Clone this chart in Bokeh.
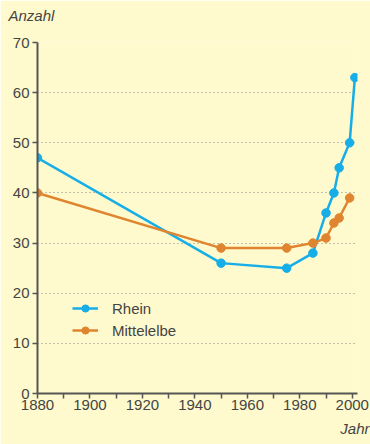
from bokeh.plotting import figure
from bokeh.models import FixedTicker, Legend, LegendItem, Range1d, Title
from bokeh.embed import file_html
from bokeh.resources import INLINE

rhein_years = [1880, 1950, 1975, 1985, 1990, 1993, 1995, 1999, 2001]
rhein_values = [47, 26, 25, 28, 36, 40, 45, 50, 63]
elbe_years = [1880, 1950, 1975, 1985, 1990, 1993, 1995, 1999]
elbe_values = [40, 29, 29, 30, 31, 34, 35, 39]
x_ticks = [1880, 1900, 1920, 1940, 1960, 1980, 2000]
x_minor = [1890, 1910, 1930, 1950, 1970, 1990]
y_ticks = [0, 10, 20, 30, 40, 50, 60, 70]

BG = "#FEFACD"
TXT = "#444444"
AX = "#555555"
BLUE = "#17AEE8"
ORANGE = "#E0852F"
FONT = "Liberation Sans"

p = figure(width=370, height=444, output_backend="svg", toolbar_location=None,
           x_range=Range1d(1880, 2002), y_range=Range1d(0, 70),
           min_border_left=37, min_border_right=13, min_border_top=42, min_border_bottom=51)
p.background_fill_color = BG
p.border_fill_color = BG
p.outline_line_color = None

p.xgrid.grid_line_color = None
p.ygrid.ticker = FixedTicker(ticks=y_ticks[1:])
p.ygrid.grid_line_color = "#888888"
p.ygrid.grid_line_dash = "1 3"
p.ygrid.grid_line_width = 1

for ax in (p.xaxis[0], p.yaxis[0]):
    ax.axis_line_color = AX
    ax.axis_line_width = 2
    ax.major_tick_line_color = AX
    ax.major_tick_line_width = 1.5
    ax.minor_tick_line_color = AX
    ax.minor_tick_line_width = 1.5
    ax.major_tick_in = 0
    ax.major_tick_out = 5
    ax.major_label_text_font = FONT
    ax.major_label_text_font_size = "15px"
    ax.major_label_text_color = TXT

p.xaxis.ticker = FixedTicker(ticks=x_ticks, minor_ticks=x_minor)
p.xaxis.minor_tick_in = 0
p.xaxis.minor_tick_out = 5
p.xaxis.major_label_standoff = 1
p.yaxis.ticker = FixedTicker(ticks=y_ticks)
p.yaxis.minor_tick_line_color = None
p.yaxis.major_label_standoff = 3

r1 = p.line(rhein_years, rhein_values, line_color=BLUE, line_width=2.5)
c1 = p.scatter(rhein_years, rhein_values, size=8.5, fill_color=BLUE, line_color=BLUE)
r2 = p.line(elbe_years, elbe_values, line_color=ORANGE, line_width=2.5)
c2 = p.scatter(elbe_years, elbe_values, size=8.5, fill_color=ORANGE, line_color=ORANGE)

legend = Legend(items=[LegendItem(label="Rhein", renderers=[r1, c1]),
                       LegendItem(label="Mittelelbe", renderers=[r2, c2])],
                location=(35, 54), background_fill_alpha=0, border_line_color=None,
                label_text_font=FONT, label_text_font_size="15px", label_text_color=TXT,
                glyph_width=26, glyph_height=18, label_standoff=14, label_height=18,
                spacing=4, padding=5, margin=0)
p.add_layout(legend)

p.add_layout(Title(text=" ", text_font=FONT, text_font_size="8px",
                   text_color=BG, standoff=6), "above")
p.add_layout(Title(text="Anzahl", align="left", offset=-29, text_font=FONT,
                   text_font_size="15px", text_font_style="italic", text_color=TXT,
                   standoff=4), "above")
p.add_layout(Title(text="Jahr", align="right", offset=-12, text_font=FONT,
                   text_font_size="15px", text_font_style="italic", text_color=TXT,
                   standoff=11), "below")

open("out.html", "w").write(file_html(p, INLINE))
